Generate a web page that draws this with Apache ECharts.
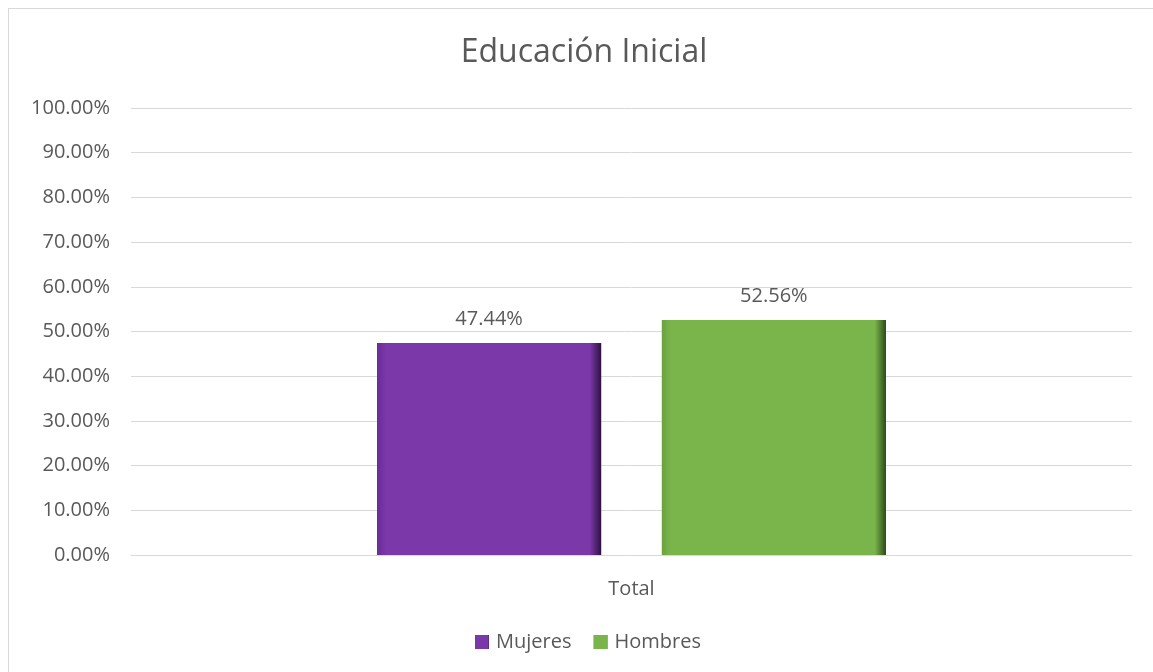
<!DOCTYPE html>
<html>
<head>
<meta charset="utf-8">
<script src="https://cdn.jsdelivr.net/npm/echarts@6/dist/echarts.min.js"></script>
<style>
  html, body { margin: 0; padding: 0; background: #fff; }
  #frame { position: absolute; left: 8px; top: 8px; width: 1160px; height: 680px; border: 1px solid #d9d9d9; }
  #main { position: absolute; left: 0; top: 0; width: 1153px; height: 672px; }
</style>
</head>
<body>
<div id="frame"></div>
<div id="main"></div>
<script>
// data
var categories = ['Total'];
var seriesNames = ['Mujeres', 'Hombres'];
var mujeres = [47.44];
var hombres = [52.56];

var fontFam = '"Open Sans", "Noto Sans", sans-serif';
var textColor = '#595959';

function bevel(base, dark, light) {
  return new echarts.graphic.LinearGradient(0, 0, 1, 0, [
    { offset: 0, color: dark },
    { offset: 0.04, color: base },
    { offset: 0.5, color: base },
    { offset: 0.95, color: base },
    { offset: 1, color: light }
  ]);
}

var myChart = echarts.init(document.getElementById('main'));
var option = {
  animation: false,
  textStyle: { fontFamily: fontFam },
  title: {
    text: 'Educación Inicial',
    left: 579,
    textAlign: 'center',
    top: 32,
    textStyle: { fontSize: 32, fontWeight: 'normal', color: textColor, fontFamily: fontFam }
  },
  legend: {
    data: seriesNames,
    bottom: 15,
    left: 470,
    itemWidth: 14,
    itemHeight: 14,
    itemGap: 22,
    icon: 'rect',
    textStyle: { fontSize: 20, color: textColor, fontFamily: fontFam, padding: [0, 0, 0, 2] }
  },
  grid: { left: 131, right: 21, top: 108, bottom: 117, containLabel: false },
  xAxis: {
    type: 'category',
    data: categories,
    axisLine: { lineStyle: { color: '#d9d9d9', width: 1 } },
    axisTick: { show: false },
    axisLabel: { fontSize: 20, color: textColor, margin: 24, fontFamily: fontFam }
  },
  yAxis: {
    type: 'value',
    min: 0,
    max: 100,
    interval: 10,
    axisLine: { show: false },
    axisTick: { show: false },
    splitLine: { lineStyle: { color: '#d9d9d9', width: 1 } },
    axisLabel: {
      fontSize: 20, color: textColor, margin: 21, fontFamily: fontFam,
      formatter: function (v) { return v.toFixed(2) + '%'; }
    }
  },
  series: [
    {
      name: seriesNames[0],
      type: 'bar',
      data: mujeres,
      barWidth: '22.4%',
      barGap: '27%',
      itemStyle: {
        color: bevel('#7a38a8', '#6a2c96', '#2e1043')
      },
      label: {
        show: true, position: 'top', distance: 14, fontSize: 20, color: textColor, fontFamily: fontFam,
        formatter: function (p) { return p.value.toFixed(2) + '%'; }
      }
    },
    {
      name: seriesNames[1],
      type: 'bar',
      data: hombres,
      barWidth: '22.4%',
      itemStyle: {
        color: bevel('#7ab54c', '#6aa23e', '#2c4a18')
      },
      label: {
        show: true, position: 'top', distance: 14, fontSize: 20, color: textColor, fontFamily: fontFam,
        formatter: function (p) { return p.value.toFixed(2) + '%'; }
      }
    }
  ]
};
option && myChart.setOption(option);
</script>
</body>
</html>
